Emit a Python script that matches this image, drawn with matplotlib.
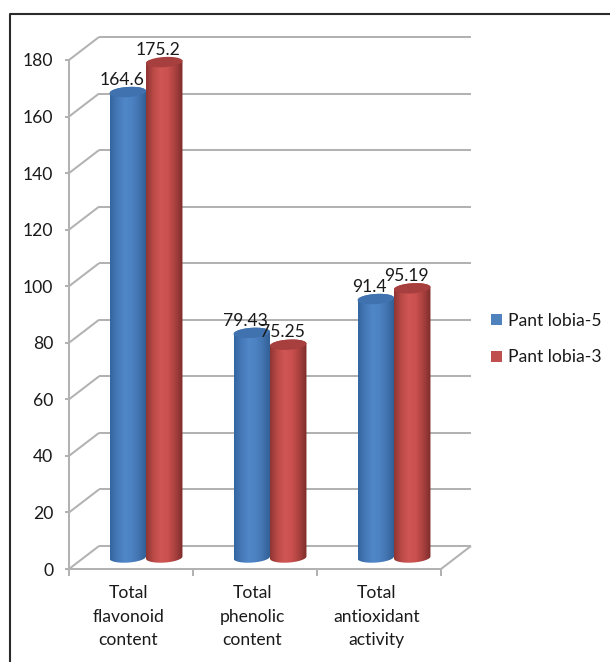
import numpy as np
import matplotlib
matplotlib.use("Agg")
import matplotlib.pyplot as plt
from matplotlib.lines import Line2D
from matplotlib.patches import Patch, PathPatch
from matplotlib.path import Path
from matplotlib.colors import LinearSegmentedColormap
from matplotlib.transforms import ScaledTranslation

plt.rcParams['font.family'] = ['Lato', 'DejaVu Sans']

categories = ["Total\nflavonoid\ncontent", "Total\nphenolic\ncontent", "Total\nantioxidant\nactivity"]
series_names = ["Pant lobia-5", "Pant lobia-3"]
lobia5 = [164.6, 79.43, 91.4]
lobia3 = [175.2, 75.25, 95.19]
value_labels5 = ["164.6", "79.43", "91.4"]
value_labels3 = ["175.2", "75.25", "95.19"]
y_ticks = list(range(0, 181, 20))

W, H = 610, 662
DPI = 100
GRID = "#b2b2b2"
TEXT = "#1a1a1a"
FS = 12.6

fig = plt.figure(figsize=(W / DPI, H / DPI), dpi=DPI, facecolor="white")
# The axes rectangle is the front plane of the 3-D box.
L, R, B, T = 69, 441, 569, 60
ax = fig.add_axes([L / W, 1 - B / H, (R - L) / W, (B - T) / H])
ax.set_xlim(0, 3)
ax.set_ylim(0, 180)
ax.axis("off")


def shifted(dx, dy):
    """Data transform moved by a pixel offset (dy up), used for depth in the box."""
    return ax.transData + ScaledTranslation(dx / DPI, dy / DPI, fig.dpi_scale_trans)


DEPTH_X, DEPTH_Y = 30, 23
back = shifted(DEPTH_X, DEPTH_Y)
middle = shifted(15, 11.5)
label_pos = shifted(9, 8.5)
tick_pos = shifted(0, -1.5)

# Box: back-wall gridlines, floor edges, depth connectors and the front axis
grid_kw = dict(color=GRID, lw=1.45, clip_on=False, solid_capstyle="butt", zorder=1)
for v in y_ticks:
    ax.plot([0, 3], [v, v], transform=back, **grid_kw)
    px, py = ax.transData.transform((0, v))
    ax.add_artist(Line2D([px, px + DEPTH_X], [py, py + DEPTH_Y], transform=None, **grid_kw))
    ax.plot([-0.03, 0], [v, v], **grid_kw)
ax.plot([0, 0], [0, 180], **grid_kw)
ax.plot([0, 3], [0, 0], **grid_kw)
px, py = ax.transData.transform((3, 0))
ax.add_artist(Line2D([px, px + DEPTH_X], [py, py + DEPTH_Y], transform=None, **grid_kw))
for x in range(4):
    ax.plot([x, x], [0, -2.4], **grid_kw)

# Cylinders
blue_map = LinearSegmentedColormap.from_list("b", ["#3465a0", "#4679b8", "#5087c8", "#4c82c2", "#4172ae", "#305c92"])
red_map = LinearSegmentedColormap.from_list("r", ["#8e3533", "#bb4a47", "#cf5654", "#c9504e", "#a8403e", "#7c2c2a"])
HALF_W = 0.147
ELL = 1.8    # vertical half-axis of the end ellipses, in data units
TILT = 0.4   # rise of the ends towards the right, in data units
theta = np.linspace(0, np.pi, 60)
shade = np.linspace(0, 1, 128).reshape(1, -1)


def cylinder(xc, value, cmap, top_color, z):
    c, s = np.cos(theta), np.sin(theta)
    top_edge = np.c_[xc + HALF_W * c, value + ELL * s + TILT * c]
    # Near half of the base, running from the left side round to the right side
    base_edge = np.c_[xc - HALF_W * c, -ELL * s - TILT * c]
    verts = np.r_[top_edge, base_edge, top_edge[:1]]
    im = ax.imshow(shade, cmap=cmap, aspect="auto", transform=middle, zorder=z,
                   extent=(xc - HALF_W, xc + HALF_W, -ELL - TILT, value + ELL + TILT))
    im.set_clip_path(PathPatch(Path(verts, closed=True), transform=middle))
    t = np.linspace(0, 2 * np.pi, 80)
    cap = Path(np.c_[xc + HALF_W * np.cos(t), value + ELL * np.sin(t) + TILT * np.cos(t)], closed=True)
    ax.add_patch(PathPatch(cap, fc=top_color, ec="none", transform=middle, zorder=z + 0.1, clip_on=False))


for i in range(3):
    cylinder(i + 0.5 - 0.147, lobia5[i], blue_map, "#3f72ae", 3 + i)
    cylinder(i + 0.5 + 0.147, lobia3[i], red_map, "#a63f3d", 3.5 + i)
ax.set_xlim(0, 3)
ax.set_ylim(0, 180)

# Value labels above each cylinder
for i in range(3):
    ax.text(i + 0.5 - 0.147, lobia5[i] + 2.6, value_labels5[i], transform=label_pos, ha="center", va="bottom",
            fontsize=FS, color=TEXT, zorder=10, clip_on=False)
    ax.text(i + 0.5 + 0.147, lobia3[i] + 2.6, value_labels3[i], transform=label_pos, ha="center", va="bottom",
            fontsize=FS, color=TEXT, zorder=10, clip_on=False)

# Axis labels
for v in y_ticks:
    ax.text(-0.125, v, str(v), transform=tick_pos, ha="right", va="center", fontsize=FS, color=TEXT, clip_on=False)
for i, c in enumerate(categories):
    ax.text(i + 0.48, -5.8, c, ha="center", va="top", fontsize=FS, color=TEXT, linespacing=1.55, clip_on=False)

# Legend
handles = [Patch(fc="#4f81bd"), Patch(fc="#c0504d")]
fig.legend(handles, series_names, loc="center left", bbox_to_anchor=(491 / W, 1 - 339 / H),
           frameon=False, fontsize=FS, labelcolor=TEXT, handlelength=0.63, handleheight=0.63,
           handletextpad=0.36, labelspacing=1.2, borderpad=0, borderaxespad=0)

# Outer frame
fig.add_artist(Line2D([9.5 / W, 9.5 / W, 1], [0, 1 - 13.5 / H, 1 - 13.5 / H], color="#2b2b2b", lw=1.5,
                      transform=fig.transFigure))

fig.savefig("out.png", dpi=DPI, facecolor="white")
